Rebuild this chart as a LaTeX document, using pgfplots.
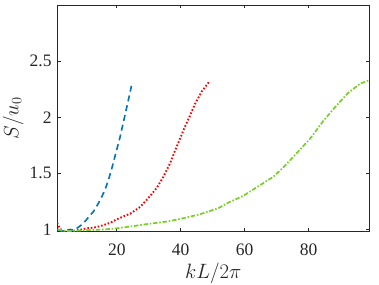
\documentclass[border=0pt]{standalone}
\usepackage{pgfplots}
\pgfplotsset{compat=1.18}
\usepackage{fontspec}
\setmainfont{Liberation Serif}
\definecolor{mblue}{RGB}{0,114,189}
\definecolor{mred}{RGB}{255,0,0}
\definecolor{mgreen}{RGB}{118,209,36}
\definecolor{axgray}{RGB}{38,38,38}
\begin{document}
\begin{tikzpicture}
\useasboundingbox (-57.3pt,-52.3pt) rectangle (321.7pt,231.7pt);
\begin{axis}[
  at={(0,0)}, anchor=south west,
  scale only axis, width=312pt, height=226.7pt,
  xmin=1.4, xmax=99, ymin=0.98, ymax=3,
  xtick={20,40,60,80}, ytick={1,1.5,2,2.5},
  tick align=inside, major tick length=3.3pt,
  tick style={axgray, line width=0.6pt},
  axis line style={axgray, line width=0.6pt},
  /pgf/number format/assume math mode=true,
  ticklabel style={font=\fontsize{17.5}{20}\selectfont, text=axgray},
  yticklabel style={/pgf/number format/fixed, inner sep=0pt, xshift=-5.6pt},
  xticklabel style={inner sep=0pt, yshift=-11.5pt},
  xlabel={$kL/2\pi$}, ylabel={$S/u_0$},
  label style={font=\fontsize{20.5}{22}\selectfont, text=axgray},
  xlabel style={inner sep=0pt, yshift=-8pt},
  ylabel style={inner sep=0pt, yshift=6pt},
  clip=true,
]
\addplot[mblue, line width=1.6pt, dash pattern=on 6pt off 4pt] coordinates {
(1.5,1.0)(2.8,0.985)(4,0.99)(5.4,1.0)(6.5,0.995)(7.5,1.01)(8.5,1.03)(10,1.07)(11.5,1.12)(12.7,1.16)(14,1.22)(15.3,1.29)(16.4,1.36)(17.4,1.44)(18.5,1.55)(19.8,1.69)(21,1.82)(22.1,1.96)(23.3,2.11)(24.6,2.28)
};
\addplot[mred, line width=1.9pt, dash pattern=on 1.6pt off 1.9pt] coordinates {
(1.3,1.06)(1.8,1.03)(2.5,1.0)(3.5,0.985)(5,0.98)(7,0.99)(9,1.0)(10.6,1.01)(12.5,1.015)(14.2,1.025)(16,1.04)(18,1.06)(20,1.09)(22,1.115)(24.2,1.14)(27.3,1.20)(29.9,1.28)(32.5,1.37)(34.6,1.47)(36.7,1.59)(38.2,1.70)(39.8,1.81)(41.4,1.92)(43,2.02)(44.5,2.12)(46.6,2.23)(49,2.32)
};
\addplot[mgreen, line width=1.7pt, dash pattern=on 4.5pt off 1.8pt on 1.5pt off 1.8pt] coordinates {
(1.5,1.0)(3,0.99)(5,0.985)(8,0.99)(12,0.995)(15.8,1.0)(20,1.01)(25.2,1.03)(30,1.05)(35.6,1.07)(40,1.095)(46,1.135)(51.8,1.19)(55,1.24)(59.6,1.30)(64,1.38)(69,1.47)(72,1.55)(76.3,1.68)(80.5,1.81)(84.7,1.97)(88.9,2.11)(92.5,2.22)(96.2,2.30)(99,2.33)
};
\end{axis}
\end{tikzpicture}
\end{document}
